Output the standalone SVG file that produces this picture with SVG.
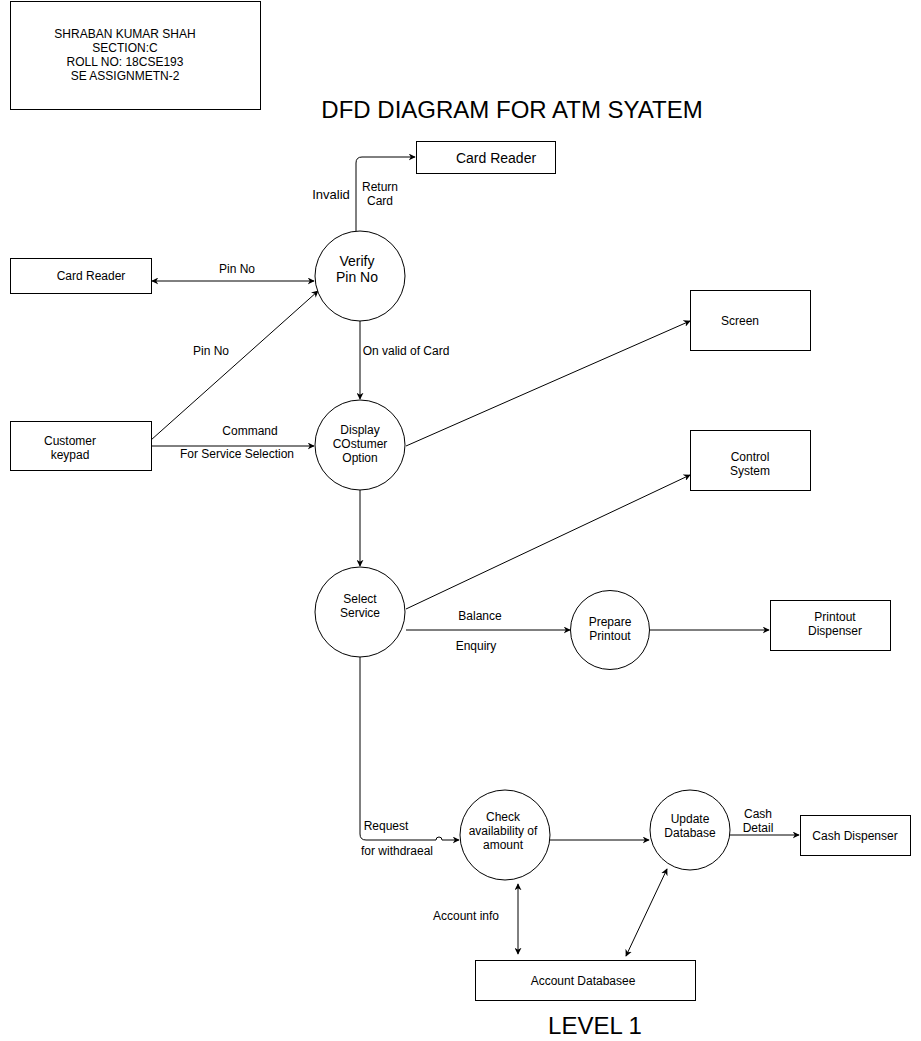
<svg xmlns="http://www.w3.org/2000/svg" width="921" height="1041" viewBox="0 0 921 1041">
<style>
  .box{fill:#fff;stroke:#000;stroke-width:1}
  .proc{fill:#fff;stroke:#000;stroke-width:1}
  .t{font-family:"Liberation Sans",Arial,sans-serif;font-size:12px;fill:#000;text-anchor:middle}
  .t14{font-size:14px}
  .big{font-size:24px}
  .ln{fill:none;stroke:#000;stroke-width:1}
</style>
<defs>
  <marker id="ah" viewBox="0 0 10 10" refX="9" refY="5" markerWidth="7" markerHeight="7" orient="auto-start-reverse" markerUnits="userSpaceOnUse">
    <path d="M0,0 L10,5 L0,10 L3,5 Z" fill="#000"/>
  </marker>
</defs>
<rect width="921" height="1041" fill="#fff"/>

<g id="info">
  <rect class="box" x="10.5" y="1.5" width="250" height="108"/>
  <text class="t" x="125" y="38">SHRABAN KUMAR SHAH</text>
  <text class="t" x="125" y="52">SECTION:C</text>
  <text class="t" x="125" y="66">ROLL NO: 18CSE193</text>
  <text class="t" x="125" y="80">SE ASSIGNMETN-2</text>
</g>
<g id="title"><text class="t big" x="512" y="118">DFD DIAGRAM FOR ATM SYATEM</text></g>
<g id="level"><text class="t big" x="595" y="1034">LEVEL 1</text></g>

<g id="connectors">
  <path class="ln" d="M356,231 L356,163 Q356,157 362,157 L415,157" marker-end="url(#ah)"/>
  <path class="ln" d="M152,281 L314,281" marker-start="url(#ah)" marker-end="url(#ah)"/>
  <path class="ln" d="M151,440 L318,291" marker-end="url(#ah)"/>
  <path class="ln" d="M151,446 L314,446" marker-end="url(#ah)"/>
  <path class="ln" d="M360,321 L360,399" marker-end="url(#ah)"/>
  <path class="ln" d="M406,446 L690,321" marker-end="url(#ah)"/>
  <path class="ln" d="M360,490 L360,566" marker-end="url(#ah)"/>
  <path class="ln" d="M406,609 L690,475" marker-end="url(#ah)"/>
  <path class="ln" d="M406,630 L570,630" marker-end="url(#ah)"/>
  <path class="ln" d="M650,630 L769,630" marker-end="url(#ah)"/>
  <path class="ln" d="M360,657 L360,834 Q360,840 366,840 L436,840 A3,3 0 0 1 442,840 L459,840" marker-end="url(#ah)"/>
  <path class="ln" d="M550,840 L649,840" marker-end="url(#ah)"/>
  <path class="ln" d="M730,835 L799,835" marker-end="url(#ah)"/>
  <path class="ln" d="M518,884 L518,954" marker-start="url(#ah)" marker-end="url(#ah)"/>
  <path class="ln" d="M667,869 L626,956" marker-start="url(#ah)" marker-end="url(#ah)"/>

  <text class="t" x="331" y="199" style="font-size:13px">Invalid</text>
  <text class="t" x="380" y="191">Return</text>
  <text class="t" x="380" y="205">Card</text>
  <text class="t" x="237" y="273">Pin No</text>
  <text class="t" x="211" y="355">Pin No</text>
  <text class="t" x="406" y="355">On valid of Card</text>
  <text class="t" x="250" y="435">Command</text>
  <text class="t" x="237" y="458">For Service Selection</text>
  <text class="t" x="480" y="620">Balance</text>
  <text class="t" x="476" y="650">Enquiry</text>
  <text class="t" x="386" y="830">Request</text>
  <text class="t" x="397" y="855">for withdraeal</text>
  <text class="t" x="758" y="818">Cash</text>
  <text class="t" x="758" y="832">Detail</text>
  <text class="t" x="466" y="920">Account info</text>
</g>

<g id="cardReaderTop">
  <rect class="box" x="416.5" y="141.5" width="139" height="32"/>
  <text class="t t14" x="496" y="163">Card Reader</text>
</g>
<g id="cardReaderLeft">
  <rect class="box" x="10.5" y="258.5" width="141" height="35"/>
  <text class="t" x="91" y="280">Card Reader</text>
</g>
<g id="customerKeypad">
  <rect class="box" x="10.5" y="421.5" width="141" height="49"/>
  <text class="t" x="70" y="445">Customer</text>
  <text class="t" x="70" y="459">keypad</text>
</g>
<g id="verifyPin">
  <circle class="proc" cx="360" cy="276" r="45"/>
  <text class="t t14" x="357" y="266">Verify</text>
  <text class="t t14" x="357" y="282">Pin No</text>
</g>
<g id="displayOption">
  <circle class="proc" cx="360" cy="445" r="45"/>
  <text class="t" x="360" y="434">Display</text>
  <text class="t" x="360" y="448">COstumer</text>
  <text class="t" x="360" y="462">Option</text>
</g>
<g id="screen">
  <rect class="box" x="690.5" y="290.5" width="120" height="60"/>
  <text class="t" x="740" y="325">Screen</text>
</g>
<g id="controlSystem">
  <rect class="box" x="690.5" y="430.5" width="120" height="60"/>
  <text class="t" x="750" y="461">Control</text>
  <text class="t" x="750" y="475">System</text>
</g>
<g id="selectService">
  <circle class="proc" cx="360" cy="612" r="45"/>
  <text class="t" x="360" y="603">Select</text>
  <text class="t" x="360" y="617">Service</text>
</g>
<g id="preparePrintout">
  <circle class="proc" cx="610" cy="630" r="39.5"/>
  <text class="t" x="610" y="626">Prepare</text>
  <text class="t" x="610" y="640">Printout</text>
</g>
<g id="printoutDispenser">
  <rect class="box" x="770.5" y="600.5" width="120" height="50"/>
  <text class="t" x="835" y="621">Printout</text>
  <text class="t" x="835" y="635">Dispenser</text>
</g>
<g id="checkAvailability">
  <circle class="proc" cx="505" cy="835" r="45"/>
  <text class="t" x="503" y="821">Check</text>
  <text class="t" x="503" y="835">availability of</text>
  <text class="t" x="503" y="849">amount</text>
</g>
<g id="updateDatabase">
  <circle class="proc" cx="690" cy="830" r="40"/>
  <text class="t" x="690" y="823">Update</text>
  <text class="t" x="690" y="837">Database</text>
</g>
<g id="cashDispenser">
  <rect class="box" x="800.5" y="815.5" width="110" height="40"/>
  <text class="t" x="855" y="840">Cash Dispenser</text>
</g>
<g id="accountDatabase">
  <rect class="box" x="475.5" y="960.5" width="220" height="40"/>
  <text class="t" x="583" y="985">Account Databasee</text>
</g>
</svg>
